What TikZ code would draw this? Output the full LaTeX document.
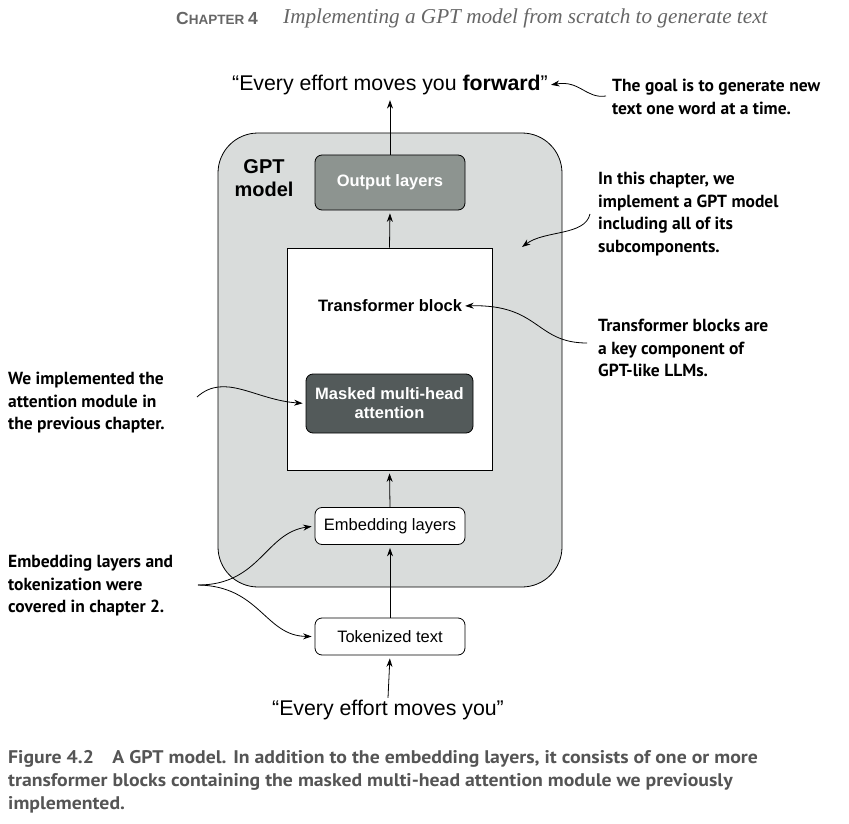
\documentclass[tikz,border=0pt]{standalone}
\usepackage{fontspec}
\setmainfont{Liberation Sans}
\newfontfamily\annfont{PT Sans}
\newfontfamily\capfont[FakeStretch=1.08]{PT Sans}
\newfontfamily\headserif{Liberation Serif}
\usetikzlibrary{arrows.meta}
\definecolor{outerfill}{HTML}{D9DCDB}
\definecolor{outfill}{HTML}{8D9490}
\definecolor{mhafill}{HTML}{535A5A}
\definecolor{capgray}{HTML}{555555}
\definecolor{headgray}{HTML}{666666}
\begin{document}
\begin{tikzpicture}[x=1pt,y=-1pt,
  box/.style={draw, rounded corners=7pt, line width=0.8pt, minimum width=150pt, minimum height=37pt, inner sep=0pt, font=\fontsize{16.5}{19}\selectfont},
  arr/.style={-{Stealth[length=8.5pt,width=6pt]}, line width=0.8pt, shorten >=3pt},
  ann/.style={anchor=north west, align=left, inner sep=0pt, font=\annfont\bfseries\fontsize{17.5}{22.5}\selectfont},
  quote/.style={inner sep=2pt, font=\fontsize{21.3}{24}\selectfont}]
\useasboundingbox (0,0) rectangle (849,824);

% header
\node[anchor=west, inner sep=0pt, text=headgray, font=\bfseries] (chap) at (176,18) {\fontsize{17.5}{18}\selectfont C\fontsize{13.5}{18}\selectfont HAPTER \fontsize{17.5}{18}\selectfont 4};
\node[anchor=west, inner sep=0pt, text=headgray, font=\headserif\itshape\fontsize{21.2}{24}\selectfont] (title) at (283,18) {Implementing a GPT model from scratch to generate text};

% GPT model container
\node[draw, fill=outerfill, rounded corners=40pt, minimum width=344pt, minimum height=454pt, line width=0.8pt] (gpt) at (390,360) {};
\node[align=center, inner sep=0pt, font=\bfseries\fontsize{20}{23}\selectfont] (gptlbl) at (264,178) {GPT\\model};

\node[box, fill=outfill, minimum height=55pt, text=white, font=\bfseries\fontsize{16.5}{19}\selectfont] (outl) at (390,182.5) {Output layers};

\node[draw, fill=white, line width=0.8pt, minimum width=205pt, minimum height=222pt] (tb) at (389.5,359) {};
\node[inner sep=0pt, font=\bfseries\fontsize{16.5}{19}\selectfont] (tblbl) at (390,306) {Transformer block};
\node[box, fill=mhafill, minimum width=167pt, minimum height=59pt, text=white, align=center, font=\bfseries\fontsize{16.5}{19}\selectfont] (mha) at (389.5,403.5) {Masked multi-head\\attention};

\node[box, fill=white] (emb) at (390,526) {Embedding layers};
\node[box, fill=white] (tok) at (390,636.5) {Tokenized text};

\node[quote] (topq) at (390,85) {“Every effort moves you \textbf{forward}”};
\node[quote] (botq) at (388,710) {“Every effort moves you”};

% main flow
\draw[arr] (botq.north) -- (tok.south);
\draw[arr] (tok.north) -- (emb.south);
\draw[arr] (emb.north) -- (tb.south);
\draw[arr] (tb.north) -- (outl.south);
\draw[arr] (outl.north) -- (topq.south);

% annotations
\node[ann] (goal) at (612,79) {The goal is to generate new\\text one word at a time.};
\node[ann] (chapter) at (598,172) {In this chapter, we\\implement a GPT model\\including all of its\\subcomponents.};
\node[ann] (tbnote) at (598,319) {Transformer blocks are\\a key component of\\GPT-like LLMs.};
\node[ann] (attn) at (8,372) {We implemented the\\attention module in\\the previous chapter.};
\node[ann] (embnote) at (8,555) {Embedding layers and\\tokenization were\\covered in chapter 2.};

\coordinate (g0) at (606,96);
\coordinate (c0) at (590,214);
\coordinate (c1) at (522,247);
\coordinate (t0) at (587,343);
\coordinate (a0) at (197,397);
\coordinate (e0) at (198,585);

\draw[arr, shorten >=1pt] (g0) .. controls (586,99) and (580,80) .. (topq.east);
\draw[arr, shorten >=0pt] (c0) .. controls (585,236) and (545,230) .. (c1);
\draw[arr] (t0) .. controls (535,343) and (540,304) .. (tblbl.east);
\draw[arr] (a0) .. controls (225,372) and (255,400) .. (mha.west);
\draw[arr] (e0) .. controls (260,585) and (265,533) .. (emb.west);
\draw[arr] (e0) .. controls (260,586) and (265,636) .. (tok.west);

% caption
\node[anchor=north west, align=left, inner sep=0pt, text=capgray, font=\capfont\bfseries\fontsize{18.3}{23}\selectfont] (cap) at (8,750) {Figure 4.2\quad A GPT model. In addition to the embedding layers, it consists of one or more\\transformer blocks containing the masked multi-head attention module we previously\\implemented.};
\end{tikzpicture}
\end{document}
